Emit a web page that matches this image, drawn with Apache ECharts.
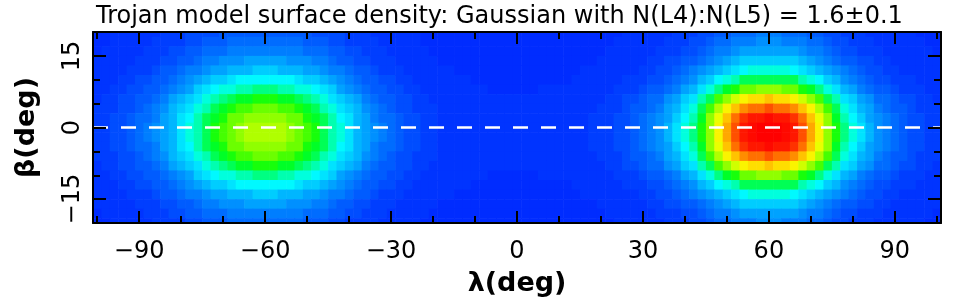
<!DOCTYPE html>
<html><head><meta charset="utf-8">
<script src="https://cdn.jsdelivr.net/npm/echarts@6/dist/echarts.min.js"></script>
<style>html,body{margin:0;padding:0;background:#fff}#c{width:954px;height:304px}</style>
</head><body><div id="c"></div>
<script>
const titleText = 'Trojan model surface density: Gaussian with N(L4):N(L5) = 1.6\u00b10.1';
const xAxisTitle = '\u03bb(deg)';
const yAxisTitle = '\u03b2(deg)';

// cell centres (deg)
const lambdaCenters = [-100,-98,-96,-94,-92,-90,-88,-86,-84,-82,-80,-78,-76,-74,-72,-70,-68,-66,-64,-62,-60,-58,-56,-54,-52,-50,-48,-46,-44,-42,-40,-38,-36,-34,-32,-30,-28,-26,-24,-22,-20,-18,-16,-14,-12,-10,-8,-6,-4,-2,0,2,4,6,8,10,12,14,16,18,20,22,24,26,28,30,32,34,36,38,40,42,44,46,48,50,52,54,56,58,60,62,64,66,68,70,72,74,76,78,80,82,84,86,88,90,92,94,96,98,100];
const betaCenters = [20,18,16,14,12,10,8,6,4,2,0,-2,-4,-6,-8,-10,-12,-14,-16,-18,-20];

// density level per cell (0..35, one base-36 digit per cell), one string per beta row
const densityRows = [
  '001111112223333444444'+'44444333322211111100000000000'+'0'+'000000000000111111222334455566'+'65554433222111111000',
  '001111122223344455555'+'55554443322221111100000000000'+'0'+'000000000001111112223345566677'+'76665543322211111100',
  '011111222334455566666'+'66665554433222111110000000000'+'0'+'000000000011111122233456678888'+'88876654332221111110',
  '111112223344566777888'+'88777665443322211111000000000'+'0'+'00000000011111122334456789aaaa'+'aaa98765443322111111',
  '1111222344566788999aa'+'a9998876654432221111110000000'+'0'+'000000011111112233456789abcddd'+'ddcba987654332211111',
  '11122334456789aabcccc'+'cccbaa98765443322111111100000'+'0'+'0000001111112223345679acdegggg'+'gggedca9765433222111',
  '112233445678abcddeeff'+'feeddcba876544332211111111000'+'0'+'001111111112223445689bdfhikkll'+'lkkihfdb986544322211',
  '12233445689abdefghhii'+'ihhgfedba98654433221111111111'+'1'+'1111111111223345578abegjlnpqqr'+'qqpnljgeba8755433221',
  '2223345679abdeghijjkk'+'kjjihgedba9765433222111111111'+'1'+'1111111112223445689bdgjmprtuuv'+'uutrpmjgdb9865443222',
  '2233455689bceghikklll'+'llkkihgecb9865543322111111111'+'1'+'111111112223345678acehloruwxxy'+'xxwurolheca876543322',
  '2233456789bdegijklmmm'+'mmlkjigedb9876543322111111111'+'1'+'111111112223345679bdfilpsvxyzz'+'zyxvsplifdb976543322',
  '2233456789bdegijklmmm'+'mmlkjigedb9876543322111111111'+'1'+'111111112223345679bdfilpsvxyzz'+'zyxvsplifdb976543322',
  '2233455689bceghikklll'+'llkkihgecb9865543322111111111'+'1'+'111111112223345678acehloruwxxy'+'xxwurolheca876543322',
  '2223345679abdeghijjkk'+'kjjihgedba9765433222111111111'+'1'+'1111111112223445689bdgjmprtuuv'+'uutrpmjgdb9865443222',
  '12233445689abdefghhii'+'ihhgfedba98654433221111111111'+'1'+'1111111111223345578abegjlnpqqr'+'qqpnljgeba8755433221',
  '112233445678abcddeeff'+'feeddcba876544332211111111000'+'0'+'001111111112223445689bdfhikkll'+'lkkihfdb986544322211',
  '11122334456789aabcccc'+'cccbaa98765443322111111100000'+'0'+'0000001111112223345679acdegggg'+'gggedca9765433222111',
  '1111222344566788999aa'+'a9998876654432221111110000000'+'0'+'000000011111112233456789abcddd'+'ddcba987654332211111',
  '111112223344566777888'+'88777665443322211111000000000'+'0'+'00000000011111122334456789aaaa'+'aaa98765443322111111',
  '011111222334455566666'+'66665554433222111110000000000'+'0'+'000000000011111122233456678888'+'88876654332221111110',
  '001111122223344455555'+'55554443322221111100000000000'+'0'+'000000000001111112223345566677'+'76665543322211111100'
];
const LEVEL_MAX = 35;

const xMajorTicks = [-90,-60,-30,0,30,60,90];
const xMinorTicks = [-100,-80,-70,-50,-40,-20,-10,10,20,40,50,70,80,100];
const yMajorTicks = [-15,0,15];
const yMinorTicks = [-10,-5,5,10];
const refLineBeta = 0;

const levelColors = ['#002cff','#003aff','#0054ff','#0070ff','#0090ff','#00b0ff','#00d8ff','#00ffff','#00ffb0','#00ff60',
  '#00ff10','#50ff00','#90ff00','#c8ff00','#f8ff00','#ffd800','#ffa800','#ff7800','#ff4000','#ff1000','#ff0000'];

const cells = [];
betaCenters.forEach((b, r) => {
  lambdaCenters.forEach((l, c) => {
    cells.push([l, b, parseInt(densityRows[r].charAt(c), 36)]);
  });
});

const fmt = v => (v < 0 ? '\u2212' + Math.abs(v) : String(v));
const GRID = {left: 93, right: 13, top: 32, bottom: 81};
const XMIN = -101, XMAX = 101, YMIN = -20, YMAX = 20;
const LABEL_FONT = {fontFamily: 'DejaVu Sans', fontSize: 24, color: '#000'};

function xAx(grid, pos, ticks, len, withLabels, withLine) {
  return {
    type: 'value', gridIndex: grid, position: pos, min: XMIN, max: XMAX, z: 10,
    axisLine: {show: withLine, onZero: false, lineStyle: {color: '#000', width: 2}},
    axisTick: {show: true, inside: true, length: len, customValues: ticks, lineStyle: {color: '#000', width: 2}},
    axisLabel: withLabels ? Object.assign({show: true, customValues: ticks, formatter: fmt, margin: 17}, LABEL_FONT) : {show: false},
    splitLine: {show: false}
  };
}
function yAx(grid, pos, ticks, len, withLabels, withLine) {
  return {
    type: 'value', gridIndex: grid, position: pos, min: YMIN, max: YMAX, z: 10,
    axisLine: {show: withLine, onZero: false, lineStyle: {color: '#000', width: 2}},
    axisTick: {show: true, inside: true, length: len, customValues: ticks, lineStyle: {color: '#000', width: 2}},
    axisLabel: withLabels ? Object.assign({show: true, customValues: ticks, formatter: fmt, margin: 8, rotate: 90}, LABEL_FONT) : {show: false},
    splitLine: {show: false}
  };
}

const NAME_FONT = {fontFamily: 'DejaVu Sans', fontWeight: 'bold', fontSize: 27, color: '#000'};
const xs = [xAx(0, 'bottom', xMajorTicks, 12, true, true), xAx(0, 'top', xMajorTicks, 12, false, true),
            xAx(1, 'bottom', xMinorTicks, 7, false, false), xAx(1, 'top', xMinorTicks, 7, false, false)];
xs[0].name = xAxisTitle; xs[0].nameLocation = 'middle'; xs[0].nameGap = 47; xs[0].nameTextStyle = NAME_FONT;
const ys = [yAx(0, 'left', yMajorTicks, 13, true, true), yAx(0, 'right', yMajorTicks, 13, false, true),
            yAx(1, 'left', yMinorTicks, 7, false, false), yAx(1, 'right', yMinorTicks, 7, false, false)];
ys[0].name = yAxisTitle; ys[0].nameLocation = 'middle'; ys[0].nameGap = 53; ys[0].nameRotate = 90; ys[0].nameTextStyle = NAME_FONT;

const chart = echarts.init(document.getElementById('c'), null, {renderer: 'canvas'});
chart.setOption({
  animation: false,
  backgroundColor: '#fff',
  title: {text: titleText, left: 91, top: 0,
    textStyle: {fontFamily: 'DejaVu Sans', fontWeight: 'normal', fontSize: 24, color: '#000'}},
  grid: [Object.assign({}, GRID), Object.assign({}, GRID)],
  xAxis: xs,
  yAxis: ys,
  visualMap: {type: 'continuous', show: false, min: 0, max: LEVEL_MAX, dimension: 2, seriesIndex: 0,
    inRange: {color: levelColors}},
  series: [
    {
      type: 'custom', xAxisIndex: 0, yAxisIndex: 0, z: 1, data: cells, silent: true,
      renderItem: function (params, api) {
        const l = api.value(0), b = api.value(1);
        const p0 = api.coord([l - 1, b + 1]);
        const p1 = api.coord([l + 1, b - 1]);
        const cs = params.coordSys;
        const shape = echarts.graphic.clipRectByRect(
          {x: p0[0], y: p0[1], width: p1[0] - p0[0] + 0.6, height: p1[1] - p0[1] + 0.6},
          {x: cs.x, y: cs.y, width: cs.width, height: cs.height});
        if (!shape) return null;
        return {type: 'rect', shape: shape, style: {fill: api.visual('color')}};
      }
    },
    {
      type: 'line', xAxisIndex: 0, yAxisIndex: 0, data: [], z: 5, silent: true,
      markLine: {silent: true, symbol: 'none', label: {show: false}, animation: false,
        lineStyle: {color: '#fff', width: 2.5, type: [15, 13], opacity: 1},
        data: [{yAxis: refLineBeta}]}
    }
  ]
});
</script></body></html>
